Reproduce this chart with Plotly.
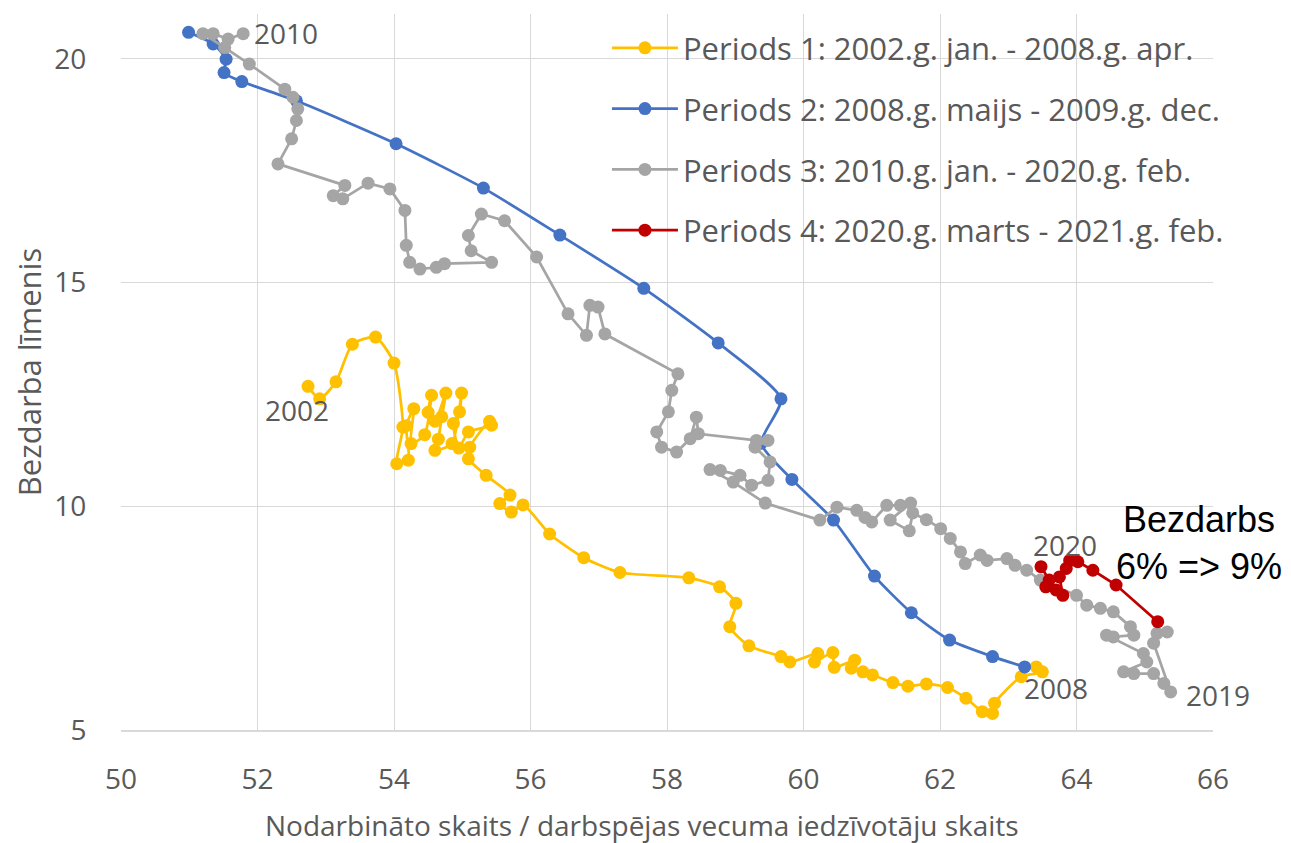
import plotly.graph_objects as go

# Periods 1: 2002 jan - 2008 apr
p1_x = [52.74, 52.91, 53.15, 53.39, 53.73, 54.0, 54.13, 54.04, 54.21, 54.18, 54.29, 54.25, 54.45, 54.55,
        54.5, 54.6, 54.76, 54.7, 54.65, 54.6, 54.85, 54.99, 54.96, 54.87, 54.95, 55.09, 55.43, 55.4,
        55.11, 55.09, 55.35, 55.70, 55.55, 55.72, 55.89, 56.28, 56.78, 57.31, 58.32, 58.77, 59.01,
        58.92, 59.20, 59.67, 59.80, 60.21, 60.16, 60.43, 60.45, 60.75, 60.70, 60.87, 61.01, 61.31,
        61.53, 61.80, 62.11, 62.38, 62.62, 62.77, 62.80, 63.19, 63.50, 63.41]
p1_y = [12.68, 12.40, 12.78, 13.62, 13.78, 13.20, 11.77, 10.95, 11.03, 11.80, 12.18, 11.40, 11.60, 12.48,
        12.10, 11.90, 12.53, 12.00, 11.50, 11.25, 11.40, 12.53, 12.11, 11.85, 11.30, 11.66, 11.81, 11.90,
        11.32, 11.06, 10.69, 10.25, 10.06, 9.87, 10.03, 9.38, 8.85, 8.52, 8.40, 8.20, 7.83,
        7.31, 6.88, 6.64, 6.52, 6.71, 6.52, 6.73, 6.40, 6.56, 6.38, 6.30, 6.23, 6.06,
        5.98, 6.03, 5.95, 5.71, 5.41, 5.37, 5.60, 6.19, 6.30, 6.41]

# Periods 2: 2008 maijs - 2009 dec
p2_x = [63.24, 62.77, 62.14, 61.58, 61.04, 60.44, 59.83, 59.38, 59.67, 58.75, 57.66, 56.43, 55.31,
        54.03, 52.57, 51.77, 51.51, 51.54, 51.35, 50.99]
p2_y = [6.41, 6.64, 7.01, 7.62, 8.44, 9.69, 10.60, 11.41, 12.40, 13.65, 14.87, 16.06, 17.11,
        18.10, 19.06, 19.49, 19.69, 19.99, 20.33, 20.59]

# Periods 3: 2010 jan - 2020 feb
p3_x = [51.79, 51.57, 51.35, 51.20, 51.52, 51.88, 52.40, 52.52, 52.59, 52.57, 52.50, 52.30, 53.28,
        53.11, 53.25, 53.62, 53.94, 54.16, 54.18, 54.23, 54.38, 54.62, 54.74, 55.43, 55.13, 55.09,
        55.28, 55.62, 56.09, 56.55, 56.82, 56.87, 56.99, 57.09, 58.16, 58.07, 58.02, 57.85, 57.92,
        58.14, 58.34, 58.43, 58.46, 59.31, 59.48, 59.29, 59.51, 59.48, 59.24, 59.07, 58.78, 58.63,
        58.97, 59.44, 60.24, 60.49, 60.78, 60.90, 61.00, 61.22, 61.42, 61.57, 61.27, 61.55, 61.60,
        61.80, 62.01, 62.15, 62.30, 62.37, 62.59, 62.69, 62.98, 63.10, 63.27, 63.47, 64.00, 64.15,
        64.35, 64.54, 64.79, 64.84, 64.54, 64.44, 64.98, 65.03, 64.69, 64.84, 65.13, 65.28, 65.38,
        65.13, 65.18, 65.33]
p3_y = [20.56, 20.44, 20.56, 20.56, 20.25, 19.88, 19.32, 19.14, 18.88, 18.62, 18.21, 17.65, 17.17,
        16.94, 16.87, 17.22, 17.09, 16.61, 15.83, 15.45, 15.30, 15.34, 15.42, 15.45, 15.71, 16.05,
        16.53, 16.38, 15.57, 14.30, 13.82, 14.49, 14.45, 13.85, 12.96, 12.59, 12.11, 11.66, 11.32,
        11.21, 11.51, 11.99, 11.62, 11.47, 11.47, 11.32, 10.99, 10.58, 10.47, 10.69, 10.80, 10.82,
        10.54, 10.07, 9.69, 9.98, 9.91, 9.75, 9.65, 10.02, 10.02, 10.07, 9.69, 9.45, 9.85,
        9.70, 9.50, 9.28, 8.98, 8.72, 8.91, 8.79, 8.83, 8.68, 8.57, 8.35, 8.01, 7.79,
        7.72, 7.64, 7.31, 7.12, 7.08, 7.12, 6.71, 6.52, 6.30, 6.26, 6.26, 6.04, 5.85,
        6.94, 7.16, 7.19]

# Periods 4: 2020 marts - 2021 feb
p4_x = [65.19, 64.58, 64.24, 64.02, 63.90, 63.85, 63.75, 63.80, 63.70, 63.55, 63.60, 63.48]
p4_y = [7.42, 8.24, 8.57, 8.76, 8.79, 8.61, 8.42, 8.01, 8.13, 8.20, 8.35, 8.65]

names = ['Periods 1: 2002.g. jan. - 2008.g. apr.',
         'Periods 2: 2008.g. maijs - 2009.g. dec.',
         'Periods 3: 2010.g. jan. - 2020.g. feb.',
         'Periods 4: 2020.g. marts - 2021.g. feb.']

FONT = 'Open Sans'
GREY = '#595959'

fig = go.Figure()
series = [(p1_x, p1_y, '#FFC000', 'spline'),
          (p2_x, p2_y, '#4472C4', 'spline'),
          (p3_x, p3_y, '#A5A5A5', 'linear'),
          (p4_x, p4_y, '#C00000', 'linear')]
for i, (xs, ys, col, shape) in enumerate(series):
    fig.add_trace(go.Scatter(x=xs, y=ys, mode='lines+markers', name=names[i],
                             legendgroup='g%d' % i,
                             line=dict(color=col, width=2.75, shape=shape, smoothing=0.6),
                             marker=dict(color=col, size=13)))

# year labels
for txt, x, y in [('2010', 51.92, 20.58), ('2002', 52.08, 12.14), ('2008', 63.2, 5.94),
                  ('2019', 65.58, 5.78), ('2020', 63.34, 9.13)]:
    fig.add_annotation(x=x, y=y, text=txt, showarrow=False, xanchor='left',
                       font=dict(family=FONT, size=28, color=GREY))
fig.add_annotation(x=65.8, y=9.17, text='Bezdarbs<br>6% => 9%', showarrow=False,
                   font=dict(family='Liberation Sans', size=36, color='black'))

# x axis title, placed a little left of the plot centre like in the original
fig.add_annotation(xref='paper', yref='paper', x=0.477, y=-0.132, yanchor='middle',
                   text='Nodarbināto skaits / darbspējas vecuma iedzīvotāju skaits',
                   showarrow=False, font=dict(family=FONT, size=28, color=GREY))

fig.update_layout(
    width=1291, height=843,
    margin=dict(l=113, r=86, t=6, b=121),
    plot_bgcolor='white', paper_bgcolor='white',
    font=dict(family=FONT, size=28, color=GREY),
    legend=dict(x=0.445, y=0.99, xanchor='left', yanchor='top', tracegroupgap=17.5,
                itemwidth=66,
                font=dict(family=FONT, size=31, color=GREY), bgcolor='rgba(0,0,0,0)'),
    xaxis=dict(range=[50, 66], dtick=2, showgrid=True, gridcolor='#D9D9D9', gridwidth=1,
               zeroline=False, showline=True, linecolor='#D9D9D9', linewidth=1.5,
               ticks='outside', ticklen=24, tickcolor='rgba(0,0,0,0)',
               tickfont=dict(size=28, color=GREY)),
    yaxis=dict(range=[5, 21], tickvals=[5, 10, 15, 20], showgrid=True, gridcolor='#D9D9D9',
               gridwidth=1, zeroline=False, showline=False,
               ticks='outside', ticklen=28, tickcolor='rgba(0,0,0,0)',
               tickfont=dict(size=28, color=GREY),
               title=dict(text='Bezdarba līmenis', standoff=8, font=dict(size=31, color=GREY))),
)

fig.write_html("out.html")
